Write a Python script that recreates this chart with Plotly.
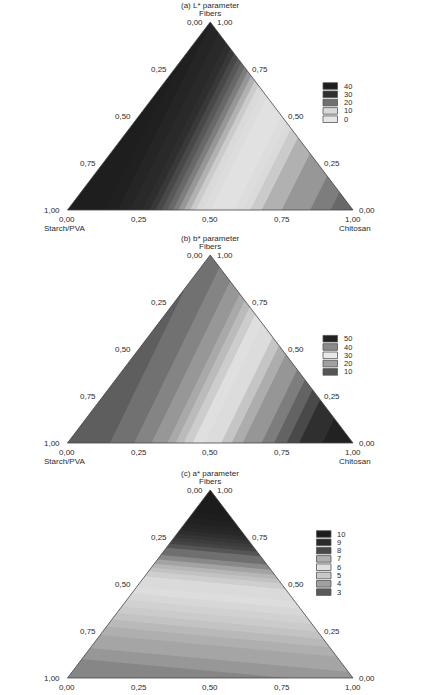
import numpy as np
import plotly.graph_objects as go

# ---------------- data ----------------
panel_titles = ["(a) L* parameter", "(b) b* parameter", "(c) a* parameter"]
apex_name = "Fibers"
left_name = "Starch/PVA"
right_name = "Chitosan"
tick_values = [0.0, 0.25, 0.50, 0.75, 1.0]
show_bottom_names = [True, True, False]

# transects read across the contour bands: band coordinate -> response value
L_pos = [0.0, 0.10, 0.20, 0.27, 0.33, 0.40, 0.45, 0.50, 0.55, 0.60, 0.65, 0.70, 0.75, 0.85, 0.95, 1.0]
L_val = [46, 42, 36, 32, 25, 16, 10, 5, 3, 6, 11, 13.5, 15, 17.5, 21, 23]
b_pos = [0.0, 0.15, 0.25, 0.35, 0.43, 0.48, 0.55, 0.60, 0.68, 0.75, 0.82, 0.93, 1.0]
b_val = [12, 12.5, 15.5, 20, 27, 30, 33, 37, 40, 44, 48, 51, 52]
a_pos = [0.0, 0.10, 0.19, 0.27, 0.36, 0.45, 0.52, 0.58, 0.63, 0.68, 0.73, 0.81, 1.0]
a_val = [3.6, 4.0, 4.3, 4.8, 5.4, 6.0, 6.3, 7.0, 7.5, 7.8, 8.5, 9.5, 11]

# orientation of the bands: coordinate = wS*Starch/PVA + wC*Chitosan + wF*Fibers
L_weights = [0.0, 1.0, 0.17]
b_weights = [0.0, 1.0, 0.18]
a_weights = [-0.07, 0.07, 1.0]

# legend levels and their grey tones
L_levels = [40, 30, 20, 10, 0]
L_grays = ["#1e1e1e", "#303030", "#707070", "#d8d8d8", "#e6e6e6"]
b_levels = [50, 40, 30, 20, 10]
b_grays = ["#222222", "#8a8a8a", "#e8e8e8", "#a0a0a0", "#555555"]
a_levels = [10, 9, 8, 7, 6, 5, 4, 3]
a_grays = ["#1c1c1c", "#2a2a2a", "#484848", "#b0b0b0", "#e0e0e0", "#c8c8c8", "#a0a0a0", "#5a5a5a"]
steps = [2.5, 2.5, 0.25]

panels = [
    (L_pos, L_val, L_weights, L_levels, L_grays),
    (b_pos, b_val, b_weights, b_levels, b_grays),
    (a_pos, a_val, a_weights, a_levels, a_grays),
]

# ---------------- geometry (pixels) ----------------
W, H = 422, 695
boxes = [(67.5, 353, 22, 210), (67.5, 353, 255, 443), (67.5, 353, 490, 678)]
legend_pos = [(323, 86, 342), (323, 338.7, 342), (316.5, 534, 335)]
sw_w, sw_h, sw_step = 14.5, 6.6, 8.3
PAD = 0.03
FONT = dict(family="Arial, Liberation Sans, sans-serif", size=8, color="#2a2a2a")
LEG_FONT = dict(family="Arial, Liberation Sans, sans-serif", size=7.5, color="#2a2a2a")


def fmt(v):
    return f"{v:.2f}".replace(".", ",")


fig = go.Figure()
layout = dict(width=W, height=H, margin=dict(l=0, r=0, t=0, b=0),
              paper_bgcolor="white", plot_bgcolor="white", showlegend=False)
annotations = []
shapes = []

n = 241
gx = np.linspace(0, 1, n)
gy = np.linspace(0, 1, n)
GX, GY = np.meshgrid(gx, gy)
Fib = GY
Chi = GX - GY / 2
Sta = 1 - Chi - Fib

for k, (pos, val, wts, levels, grays) in enumerate(panels):
    ax = "" if k == 0 else str(k + 1)
    xa, ya = "x" + ax, "y" + ax
    x0, x1, ytop, ybot = boxes[k]
    wpx, hpx = x1 - x0, ybot - ytop
    layout["xaxis" + ax] = dict(domain=[(x0 - PAD * wpx) / W, (x1 + PAD * wpx) / W],
                                range=[-PAD, 1 + PAD], visible=False, fixedrange=True, anchor=ya)
    layout["yaxis" + ax] = dict(domain=[1 - (ybot + PAD * hpx) / H, 1 - (ytop - PAD * hpx) / H],
                                range=[-PAD, 1 + PAD], visible=False, fixedrange=True, anchor=xa)

    g = wts[0] * Sta + wts[1] * Chi + wts[2] * Fib
    Z = np.interp(g, pos, val)

    lv_sorted = sorted(zip(levels, grays))
    lo, hi = lv_sorted[0][0], lv_sorted[-1][0]
    cs = [[(lv - lo) / (hi - lo), c] for lv, c in lv_sorted]
    st = steps[k]
    fig.add_trace(go.Contour(
        x=gx, y=gy, z=Z, colorscale=cs, zmin=lo, zmax=hi, showscale=False,
        contours=dict(start=lo - 4 * st, end=hi + 6 * st, size=st, coloring="fill", showlines=False),
        line=dict(width=0), hoverinfo="skip", xaxis=xa, yaxis=ya))

    # white masks outside the triangle
    e = PAD + 0.02
    fig.add_trace(go.Scatter(x=[-e, 0, 0.5, 0.5, -e, -e], y=[-e, 0, 1, 1 + e, 1 + e, -e],
                             fill="toself", fillcolor="white", mode="none", hoverinfo="skip",
                             xaxis=xa, yaxis=ya))
    fig.add_trace(go.Scatter(x=[1 + e, 1, 0.5, 0.5, 1 + e, 1 + e], y=[-e, 0, 1, 1 + e, 1 + e, -e],
                             fill="toself", fillcolor="white", mode="none", hoverinfo="skip",
                             xaxis=xa, yaxis=ya))
    # triangle outline
    fig.add_trace(go.Scatter(x=[0, 1, 0.5, 0], y=[0, 0, 1, 0], mode="lines",
                             line=dict(color="#444444", width=0.8), hoverinfo="skip",
                             xaxis=xa, yaxis=ya))

    def ann(x, y, text, xanchor="center", xshift=0, yshift=0):
        annotations.append(dict(x=x, y=y, xref=xa, yref=ya, text=text, showarrow=False,
                                xanchor=xanchor, yanchor="middle", xshift=xshift, yshift=yshift,
                                font=FONT))

    ann(0.5, 1, panel_titles[k], yshift=17)
    ann(0.5, 1, apex_name, yshift=8.5)
    for t in tick_values:
        # left edge: Starch/PVA proportion t (fibers = 1 - t)
        ann((1 - t) / 2, 1 - t, fmt(t), xanchor="right", xshift=-5.5)
        # right edge: Fibers proportion t
        ann(1 - t / 2, t, fmt(t), xanchor="left", xshift=4.5)
        # bottom edge: Chitosan proportion t
        ann(t, 0, fmt(t), yshift=-9.5)
    if show_bottom_names[k]:
        ann(0, 0, left_name, xshift=-3, yshift=-18.5)
        ann(1, 0, right_name, xshift=2, yshift=-18.5)

    # legend swatches
    lx, ly, tx = legend_pos[k]
    for i, (lv, c) in enumerate(zip(levels, grays)):
        cy = ly + i * sw_step
        shapes.append(dict(type="rect", xref="paper", yref="paper",
                           x0=lx / W, x1=(lx + sw_w) / W,
                           y0=1 - (cy + sw_h / 2) / H, y1=1 - (cy - sw_h / 2) / H,
                           fillcolor=c, line=dict(color="#555555", width=0.8)))
        annotations.append(dict(x=tx / W, y=1 - cy / H, xref="paper", yref="paper", text=str(lv),
                                showarrow=False, xanchor="left", yanchor="middle", font=LEG_FONT))

layout["annotations"] = annotations
layout["shapes"] = shapes
fig.update_layout(**layout)
fig.write_html("out.html")
